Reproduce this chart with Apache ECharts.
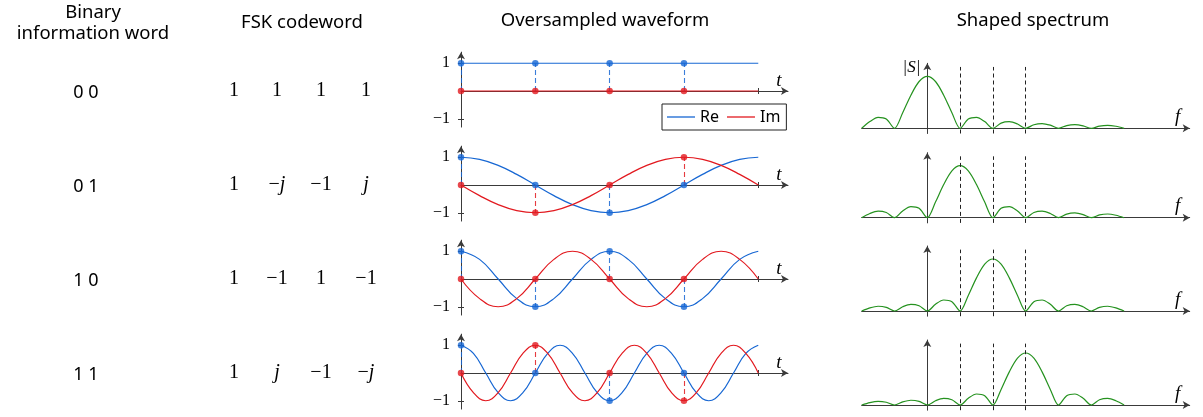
<!DOCTYPE html>
<html><head><meta charset="utf-8">
<script src="https://cdn.jsdelivr.net/npm/echarts@6/dist/echarts.min.js"></script>
<style>html,body{margin:0;padding:0;background:#fff}#c{width:1203px;height:417px}</style>
</head><body><div id="c"></div>
<script>
// ---------------- data ----------------
const headers = ['Binary\ninformation word', 'FSK codeword', 'Oversampled waveform', 'Shaped spectrum'];
const infoWords = ['0 0', '0 1', '1 0', '1 1'];
const codewords = [
  ['1', '1', '1', '1'],
  ['1', '−j', '−1', 'j'],
  ['1', '−1', '1', '−1'],
  ['1', 'j', '−1', '−j']
];
const legendNames = ['Re', 'Im'];
const yTickValues = [-1, 1];
const tTickValues = [4];

// samples of the codeword (t = 0..3)
const sampleT = [0, 1, 2, 3];
const sampleRe = [[1, 1, 1, 1], [1, 0, -1, 0], [1, -1, 1, -1], [1, 0, -1, 0]];
const sampleIm = [[0, 0, 0, 0], [0, -1, 0, 1], [0, 0, 0, 0], [0, 1, 0, -1]];

// oversampled waveform
const waveT1 = [0, 4];
const waveRe1 = [1, 1];
const waveIm1 = [0, 0];

const waveT2 = [0, 0.25, 0.5, 0.75, 1, 1.25, 1.5, 1.75, 2, 2.25, 2.5, 2.75, 3, 3.25, 3.5, 3.75, 4];
const waveRe2 = [1, 0.924, 0.707, 0.383, 0, -0.383, -0.707, -0.924, -1, -0.924, -0.707, -0.383, 0, 0.383, 0.707, 0.924, 1];
const waveIm2 = [0, -0.383, -0.707, -0.924, -1, -0.924, -0.707, -0.383, 0, 0.383, 0.707, 0.924, 1, 0.924, 0.707, 0.383, 0];

const waveT3 = [0, 0.25, 0.5, 0.75, 1, 1.25, 1.5, 1.75, 2, 2.25, 2.5, 2.75, 3, 3.25, 3.5, 3.75, 4];
const waveRe3 = [1, 0.707, 0, -0.707, -1, -0.707, 0, 0.707, 1, 0.707, 0, -0.707, -1, -0.707, 0, 0.707, 1];
const waveIm3 = [0, -0.707, -1, -0.707, 0, 0.707, 1, 0.707, 0, -0.707, -1, -0.707, 0, 0.707, 1, 0.707, 0];

const waveT4 = [0, 0.167, 0.333, 0.5, 0.667, 0.833, 1, 1.167, 1.333, 1.5, 1.667, 1.833, 2, 2.167, 2.333, 2.5, 2.667, 2.833, 3, 3.167, 3.333, 3.5, 3.667, 3.833, 4];
const waveRe4 = [1, 0.707, 0, -0.707, -1, -0.707, 0, 0.707, 1, 0.707, 0, -0.707, -1, -0.707, 0, 0.707, 1, 0.707, 0, -0.707, -1, -0.707, 0, 0.707, 1];
const waveIm4 = [0, -0.707, -1, -0.707, 0, 0.707, 1, 0.707, 0, -0.707, -1, -0.707, 0, 0.707, 1, 0.707, 0, -0.707, -1, -0.707, 0, 0.707, 1, 0.707, 0];

// shaped spectrum |S(f)|
const specF = [-2, -1.75, -1.5, -1.25, -1, -0.75, -0.5, -0.25, 0, 0.25, 0.5, 0.75, 1, 1.25, 1.5, 1.75, 2, 2.25, 2.5, 2.75, 3, 3.25, 3.5, 3.75, 4, 4.25, 4.5, 4.75, 5, 5.25, 5.5, 5.75, 6];
const specS1 = [0, .129, .212, .180, 0, .300, .637, .900, 1, .900, .637, .300, 0, .180, .212, .129, 0, .100, .127, .082, 0, .069, .091, .060, 0, .053, .071, .047, 0, .043, .058, .039, 0];
const specS2 = [0, .082, .127, .100, 0, .129, .212, .180, 0, .300, .637, .900, 1, .900, .637, .300, 0, .180, .212, .129, 0, .100, .127, .082, 0, .069, .091, .060, 0, .053, .071, .047, 0];
const specS3 = [0, .060, .091, .069, 0, .082, .127, .100, 0, .129, .212, .180, 0, .300, .637, .900, 1, .900, .637, .300, 0, .180, .212, .129, 0, .100, .127, .082, 0, .069, .091, .060, 0];
const specS4 = [0, .047, .071, .053, 0, .060, .091, .069, 0, .082, .127, .100, 0, .129, .212, .180, 0, .300, .637, .900, 1, .900, .637, .300, 0, .180, .212, .129, 0, .100, .127, .082, 0];
const markerFreqs = [1, 2, 3];

// ---------------- layout & style ----------------
const waveT = [waveT1, waveT2, waveT3, waveT4];
const waveRe = [waveRe1, waveRe2, waveRe3, waveRe4];
const waveIm = [waveIm1, waveIm2, waveIm3, waveIm4];
const specS = [specS1, specS2, specS3, specS4];

const BLUE = '#1767d3', RED = '#e2191f', GREEN = '#25921f', AXIS = '#3a3a3a';
const SANS = '"Noto Sans", "Open Sans", sans-serif';
const SERIF = '"Liberation Serif", "DejaVu Serif", serif';
const wave = { left: 461, width: 327, zero: [91, 185, 279, 373], unit: 27.75, yMin: -1.3, yMax: 1.4, tMax: 4.4 };
const spec = { left: 861.7, width: 328, zero: [128.3, 217.7, 311, 405], unit: 52, yMin: -0.1, yMax: 1.25, fMin: -2, fMax: 8, dashTop: 1.18 };
const rowText = { infoX: 86, codeX: [234, 277, 321, 366] };

const zip = (xs, ys) => xs.map((x, i) => [x, ys[i]]);
const minus = v => (v < 0 ? '−' + Math.abs(v) : String(v));

const grid = [], xAxis = [], yAxis = [], series = [];

for (let r = 0; r < 4; r++) {
  // ---- waveform grid ----
  const gW = grid.length;
  grid.push({ left: wave.left, width: wave.width, top: wave.zero[r] - wave.yMax * wave.unit,
    height: (wave.yMax - wave.yMin) * wave.unit, outerBoundsMode: 'none', containLabel: false });
  const yA = yAxis.length;
  yAxis.push({ gridIndex: gW, type: 'value', min: wave.yMin, max: wave.yMax, position: 'left', offset: 0,
    axisLine: { show: true, onZero: false, symbol: ['none', 'arrow'], symbolSize: [6, 7], lineStyle: { color: AXIS, width: 1 } },
    axisTick: { show: true, customValues: yTickValues, length: 3, inside: false, lineStyle: { color: AXIS } },
    axisLabel: { show: true, customValues: yTickValues, formatter: minus, fontFamily: SERIF, fontSize: 16, color: '#000', margin: 11 },
    splitLine: { show: false } });
  const yB = yAxis.length;
  yAxis.push({ gridIndex: gW, type: 'value', min: wave.yMin, max: wave.yMax, position: 'left', offset: 0,
    axisLine: { show: false, onZero: false },
    axisTick: { show: true, customValues: yTickValues, length: 3, inside: true, lineStyle: { color: AXIS } },
    axisLabel: { show: false }, splitLine: { show: false } });
  const xA = xAxis.length;
  xAxis.push({ gridIndex: gW, type: 'value', min: 0, max: wave.tMax, position: 'bottom',
    name: 't', nameLocation: 'end', nameGap: -9,
    nameTextStyle: { fontFamily: SERIF, fontStyle: 'italic', fontSize: 19, color: '#000', align: 'center', verticalAlign: 'bottom', padding: [0, 0, 1, 0] },
    axisLine: { show: true, onZero: true, onZeroAxisIndex: yA, symbol: ['none', 'arrow'], symbolSize: [6, 7], lineStyle: { color: AXIS, width: 1 } },
    axisTick: { show: true, customValues: tTickValues, length: 3, inside: false, lineStyle: { color: AXIS } },
    axisLabel: { show: false }, splitLine: { show: false } });
  xAxis.push({ gridIndex: gW, type: 'value', min: 0, max: wave.tMax, position: 'bottom',
    axisLine: { show: false, onZero: true, onZeroAxisIndex: yB },
    axisTick: { show: true, customValues: tTickValues, length: 3, inside: true, lineStyle: { color: AXIS } },
    axisLabel: { show: false }, splitLine: { show: false } });

  series.push({ type: 'line', name: legendNames[0], xAxisIndex: xA, yAxisIndex: yA, data: zip(waveT[r], waveRe[r]),
    showSymbol: false, smooth: 0.45, color: BLUE, lineStyle: { width: 1.2, color: BLUE }, z: 3 });
  series.push({ type: 'line', name: legendNames[1], xAxisIndex: xA, yAxisIndex: yA, data: zip(waveT[r], waveIm[r]),
    showSymbol: false, smooth: 0.45, color: RED, lineStyle: { width: 1.2, color: RED }, z: 3 });

  const dashRe = sampleT.filter((t, i) => sampleRe[r][i] !== 0).map(t => [{ coord: [t, 0] }, { coord: [t, sampleRe[r][sampleT.indexOf(t)]] }]);
  const dashIm = sampleT.filter((t, i) => sampleIm[r][i] !== 0).map(t => [{ coord: [t, 0] }, { coord: [t, sampleIm[r][sampleT.indexOf(t)]] }]);
  const ml = (data, color) => ({ silent: true, symbol: ['none', 'none'], label: { show: false },
    lineStyle: { color, type: [5, 3], width: 1.1, opacity: 0.85 }, emphasis: { disabled: true }, data, z: 4 });

  series.push({ type: 'scatter', name: 'Re samples', xAxisIndex: xA, yAxisIndex: yA, data: zip(sampleT, sampleRe[r]),
    symbolSize: 6.5, itemStyle: { color: BLUE }, z: 7, markLine: ml(dashRe, BLUE) });
  series.push({ type: 'scatter', name: 'Im samples', xAxisIndex: xA, yAxisIndex: yA, data: zip(sampleT, sampleIm[r]),
    symbolSize: 6.5, itemStyle: { color: RED }, z: 8, markLine: ml(dashIm, RED) });

  // ---- spectrum grid ----
  const gS = grid.length;
  grid.push({ left: spec.left, width: spec.width, top: spec.zero[r] - spec.yMax * spec.unit,
    height: (spec.yMax - spec.yMin) * spec.unit, outerBoundsMode: 'none', containLabel: false });
  const sx = xAxis.length;
  xAxis.push({ gridIndex: gS, type: 'value', min: spec.fMin, max: spec.fMax,
    name: 'f', nameLocation: 'end', nameGap: -12,
    nameTextStyle: { fontFamily: SERIF, fontStyle: 'italic', fontSize: 19, color: '#000', align: 'center', verticalAlign: 'bottom', padding: [0, 0, 2, 0] },
    axisLine: { show: true, onZero: true, symbol: ['none', 'arrow'], symbolSize: [6, 7], lineStyle: { color: AXIS, width: 1 } },
    axisTick: { show: false }, axisLabel: { show: false }, splitLine: { show: false } });
  const sy = yAxis.length;
  yAxis.push({ gridIndex: gS, type: 'value', min: spec.yMin, max: spec.yMax,
    name: r === 0 ? '|S|' : '', nameLocation: 'end', nameGap: -4,
    nameTextStyle: { fontFamily: SERIF, fontStyle: 'italic', fontSize: 17, color: '#000', align: 'right', verticalAlign: 'middle', padding: [0, 7, 0, 0] },
    axisLine: { show: true, onZero: true, symbol: ['none', 'arrow'], symbolSize: [6, 7], lineStyle: { color: AXIS, width: 1 } },
    axisTick: { show: false }, axisLabel: { show: false }, splitLine: { show: false } });
  series.push({ type: 'line', name: 'spectrum', xAxisIndex: sx, yAxisIndex: sy, data: zip(specF, specS[r]),
    showSymbol: false, smooth: 0.3, color: GREEN, lineStyle: { width: 1.2, color: GREEN }, z: 3,
    markLine: { silent: true, symbol: ['none', 'none'], label: { show: false }, emphasis: { disabled: true },
      lineStyle: { color: '#222', type: [4, 3], width: 1 },
      data: markerFreqs.map(f => [{ coord: [f, spec.yMin] }, { coord: [f, spec.dashTop] }]) } });
}

// ---------------- texts ----------------
const graphic = [];
const txt = (text, x, y, font, extra) => graphic.push({ type: 'text', x, y, silent: true,
  style: Object.assign({ text, font, fill: '#000', textAlign: 'center', textVerticalAlign: 'middle' }, extra || {}) });
const hdrLines = headers[0].split('\n');
const HF = '18.5px ' + SANS;
txt(hdrLines[0], 93, 13, HF);
txt(hdrLines[1], 93, 34, HF);
txt(headers[1], 302, 23, HF);
txt(headers[2], 605, 21, HF);
txt(headers[3], 1033, 21, HF);

const richCode = s => s.split(/(j)/).filter(p => p).map(p => (p === 'j' ? '{i|j}' : '{n|' + p + '}')).join('');
for (let r = 0; r < 4; r++) {
  txt(infoWords[r], rowText.infoX, wave.zero[r] + 2, '18px ' + SANS);
  codewords[r].forEach((c, k) => {
    graphic.push({ type: 'text', x: rowText.codeX[k], y: wave.zero[r], silent: true,
      style: { text: richCode(c), textAlign: 'center', textVerticalAlign: 'middle', fill: '#000',
        rich: { n: { fontFamily: SERIF, fontSize: 20, color: '#000' },
                i: { fontFamily: SERIF, fontSize: 20, fontStyle: 'italic', color: '#000' } } } });
  });
}

const chart = echarts.init(document.getElementById('c'), null, { renderer: 'canvas' });
chart.setOption({
  animation: false,
  backgroundColor: '#fff',
  grid, xAxis, yAxis, series, graphic,
  legend: {
    show: true, data: legendNames.map(n => ({ name: n })), left: 662, top: 104, orient: 'horizontal',
    icon: 'rect', itemWidth: 28, itemHeight: 1.3, itemGap: 8, padding: [5, 6, 5, 5],
    borderColor: '#222', borderWidth: 1, borderRadius: 0, selectedMode: false,
    textStyle: { fontFamily: SANS, fontSize: 16, color: '#000' }
  }
});
</script></body></html>
